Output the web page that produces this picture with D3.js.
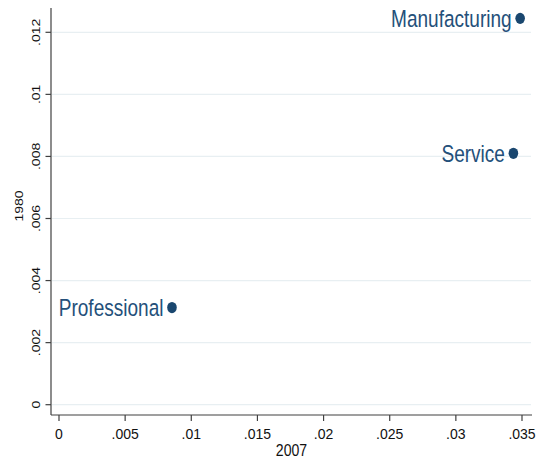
<!DOCTYPE html>
<html>
<head>
<meta charset="utf-8">
<script src="https://cdn.jsdelivr.net/npm/d3@7/dist/d3.min.js"></script>
<style>
  html, body { margin: 0; padding: 0; background: #fff; }
  svg { display: block; font-family: "Liberation Sans", Arial, sans-serif; }
</style>
</head>
<body>
<svg id="chart" width="540" height="462"></svg>
<script>
// ---- data ----
const categories = ["Manufacturing", "Service", "Professional"];
const x2007 = [0.03486, 0.03435, 0.00854];
const y1980 = [0.01245, 0.0081, 0.00313];

const xTicks = [0, 0.005, 0.01, 0.015, 0.02, 0.025, 0.03, 0.035];
const xTickLabels = ["0", ".005", ".01", ".015", ".02", ".025", ".03", ".035"];
const yTicks = [0, 0.002, 0.004, 0.006, 0.008, 0.01, 0.012];
const yTickLabels = ["0", ".002", ".004", ".006", ".008", ".01", ".012"];

const xTitle = "2007";
const yTitle = "1980";

// ---- layout ----
const svg = d3.select("#chart");
const plot = { left: 51, right: 532, top: 8, bottom: 415 };
const x = d3.scaleLinear().domain([0, 0.035]).range([59, 522]);
const y = d3.scaleLinear().domain([0, 0.012]).range([404.7, 32.3]);

const navy = "#1a476f";
const labelColor = "#24507a";
const axisColor = "#404040";
const gridColor = "#e8eff2";

// gridlines
svg.append("g").selectAll("line").data(yTicks).join("line")
  .attr("x1", plot.left + 1).attr("x2", plot.right - 1)
  .attr("y1", d => y(d)).attr("y2", d => y(d))
  .attr("stroke", gridColor).attr("stroke-width", 1.2);

// y axis
const yAxis = svg.append("g").attr("transform", `translate(${plot.left},0)`);
yAxis.append("line").attr("x1", 0).attr("x2", 0)
  .attr("y1", plot.top).attr("y2", plot.bottom)
  .attr("stroke", axisColor).attr("stroke-width", 1.2);
yAxis.selectAll("line.tick").data(yTicks).join("line").attr("class", "tick")
  .attr("x1", -5.5).attr("x2", 0)
  .attr("y1", d => y(d)).attr("y2", d => y(d))
  .attr("stroke", axisColor).attr("stroke-width", 1.2);
yAxis.selectAll("text").data(yTicks).join("text")
  .attr("transform", d => `translate(${39.5 - plot.left},${y(d)}) rotate(-90) scale(1,0.8)`)
  .attr("text-anchor", "middle")
  .attr("font-size", 14)
  .attr("fill", "#111")
  .text((d, i) => yTickLabels[i]);

// x axis
const xAxis = svg.append("g").attr("transform", `translate(0,${plot.bottom})`);
xAxis.append("line").attr("x1", plot.left).attr("x2", plot.right)
  .attr("y1", 0).attr("y2", 0)
  .attr("stroke", axisColor).attr("stroke-width", 1.2);
xAxis.selectAll("line.tick").data(xTicks).join("line").attr("class", "tick")
  .attr("x1", d => x(d)).attr("x2", d => x(d))
  .attr("y1", 0).attr("y2", 6)
  .attr("stroke", axisColor).attr("stroke-width", 1.2);
xAxis.selectAll("text").data(xTicks).join("text")
  .attr("x", d => x(d)).attr("y", 23.5)
  .attr("text-anchor", "middle")
  .attr("font-size", 14)
  .attr("fill", "#111")
  .text((d, i) => xTickLabels[i]);

// axis titles
svg.append("text")
  .attr("transform", `translate(${(plot.left + plot.right) / 2},456) scale(0.88,1)`)
  .attr("text-anchor", "middle").attr("font-size", 16).attr("fill", "#111")
  .text(xTitle);
svg.append("text")
  .attr("transform", `translate(22.5,206) rotate(-90) scale(1,0.8)`)
  .attr("text-anchor", "middle").attr("font-size", 14).attr("fill", "#111")
  .text(yTitle);

// points
const pts = categories.map((c, i) => ({ name: c, x: x2007[i], y: y1980[i] }));
const g = svg.append("g");
g.selectAll("ellipse").data(pts).join("ellipse")
  .attr("cx", d => x(d.x)).attr("cy", d => y(d.y))
  .attr("rx", 4.8).attr("ry", 5.6)
  .attr("fill", navy);
g.selectAll("text").data(pts).join("text")
  .attr("transform", d => `translate(${x(d.x) - 8.5},${y(d.y) + 8.5}) scale(0.81,1)`)
  .attr("text-anchor", "end")
  .attr("font-size", 23.5)
  .attr("fill", labelColor)
  .text(d => d.name);
</script>
</body>
</html>
